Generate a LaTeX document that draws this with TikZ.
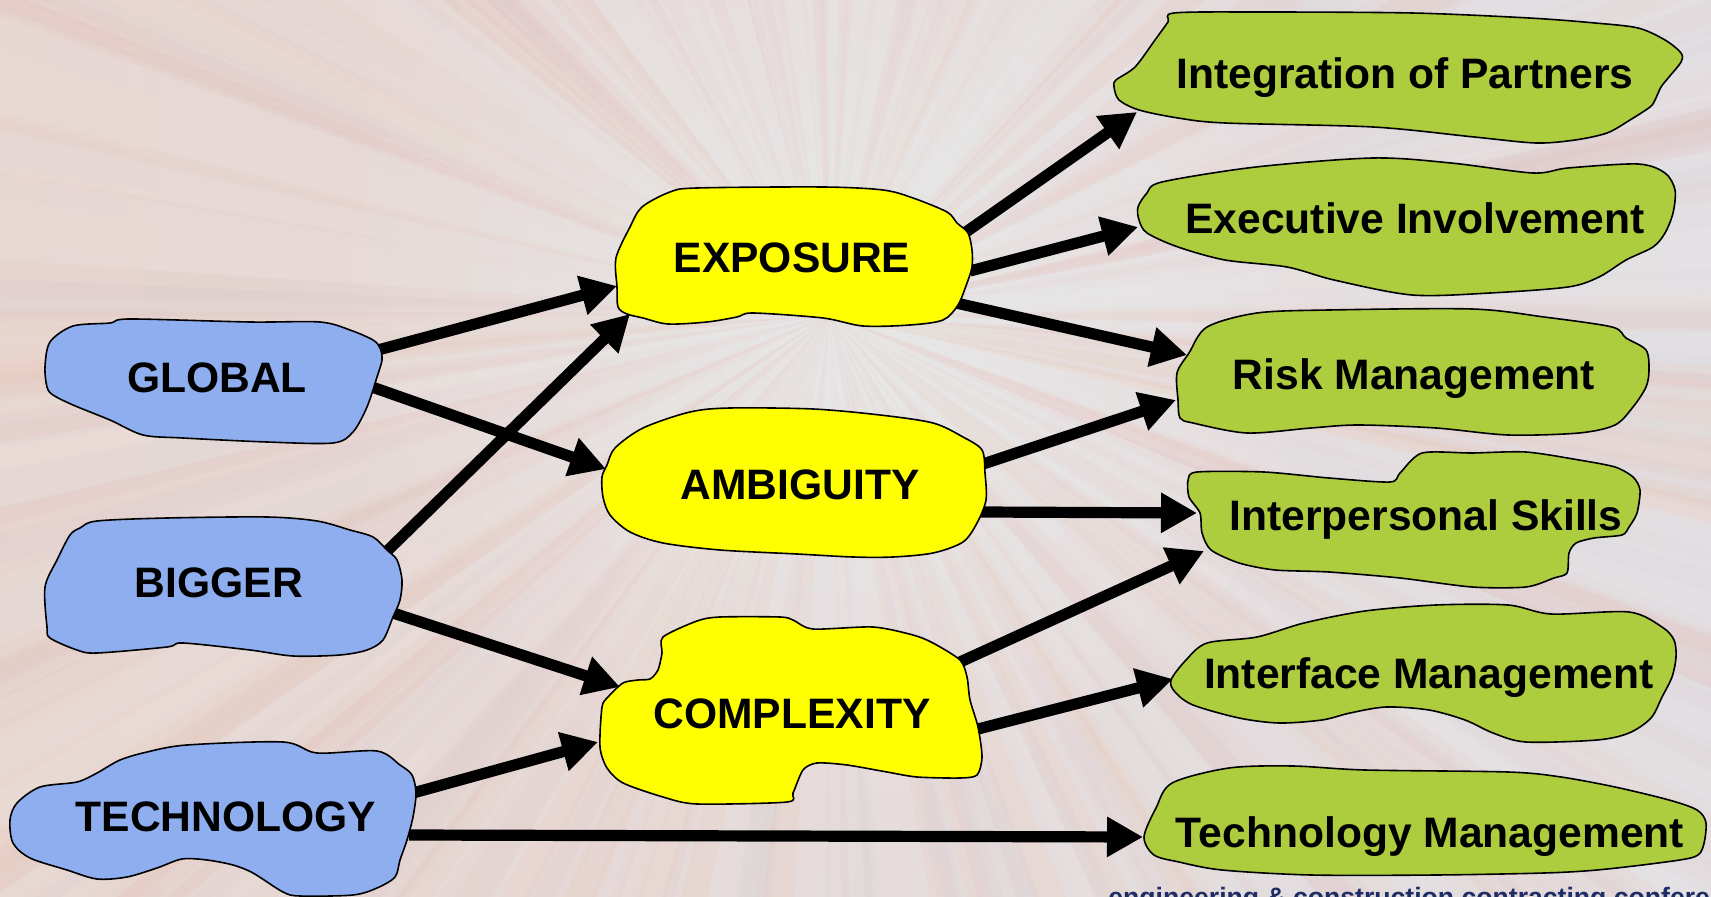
\documentclass[tikz,border=0pt]{standalone}
\usepackage{fontspec}
\setmainfont{Liberation Sans}
\usetikzlibrary{arrows.meta}
\definecolor{bluefill}{HTML}{8FAEF0}
\definecolor{yelfill}{HTML}{FFFF00}
\definecolor{grnfill}{HTML}{ADCD3F}
\definecolor{bgleft}{HTML}{E8D8D3}
\definecolor{bgright}{HTML}{E2DFE3}
\definecolor{navy}{HTML}{1E2D66}
\definecolor{st0}{HTML}{F2B392}
\definecolor{st1}{HTML}{E2A49C}
\definecolor{st2}{HTML}{C9CEDB}
\definecolor{st3}{HTML}{FAF7F5}
\definecolor{st4}{HTML}{D6B2AE}
\tikzset{
  blob/.style={draw=black, line width=0.8pt, line join=round},
  lbl/.style={font=\fontsize{21.3}{25}\selectfont\bfseries, anchor=base, inner sep=0pt},
  conn/.style={line width=5.6pt, -{Triangle[length=18pt,width=19pt]}},
}
\begin{document}
\begin{tikzpicture}[x=0.5pt,y=-0.5pt]
\useasboundingbox (0,0) rectangle (1711,897);
\begin{scope}
\clip (0,0) rectangle (1711,897);
% background
\shade[left color=bgleft, right color=bgright] (0,0) rectangle (1711,897);
\pgfmathsetseed{12}
\foreach \i in {1,...,320}{
  \pgfmathsetmacro\anga{rnd*360}
  \pgfmathsetmacro\angb{\anga+0.5+rnd*2.5}
  \pgfmathsetmacro\op{0.03+rnd*0.07}
  \pgfmathtruncatemacro\ci{5*rnd}
  \fill[st\ci, opacity=\op] (830,315) -- +(\anga:2400) -- +(\angb:2400) -- cycle;
}
\foreach \r in {40,80,...,480}{
  \fill[white, opacity=0.04] (830,315) circle[radius=\r];
}
\node[font=\fontsize{13.3}{16}\selectfont\bfseries, text=navy, anchor=base west, inner sep=0pt] (footer) at (1108,906) {engineering \& construction contracting conference};

% connector end points
\coordinate (gE1) at (378,350); \coordinate (eG1) at (617,286);
\coordinate (gA1) at (372,387); \coordinate (aG1) at (606,469);
\coordinate (bE1) at (382,556); \coordinate (eB1) at (630,314);
\coordinate (bC1) at (393,613); \coordinate (cB1) at (620,687);
\coordinate (tC1) at (413,793); \coordinate (cT1) at (598,742);
\coordinate (tT1) at (409,835); \coordinate (tmT1) at (1143,837);
\coordinate (eI1) at (966,232); \coordinate (iE1) at (1137,112);
\coordinate (eX1) at (970,271); \coordinate (xE1) at (1138,227);
\coordinate (eR1) at (956,303); \coordinate (rE1) at (1187,355);
\coordinate (aR1) at (983,464); \coordinate (rA1) at (1176,400);
\coordinate (aP1) at (981,512); \coordinate (pA1) at (1197,513);
\coordinate (cP1) at (960,662); \coordinate (pC1) at (1204,551);
\coordinate (cF1) at (978,729); \coordinate (fC1) at (1173,679);

% connectors
\draw[conn] (gE1) -- (eG1);
\draw[conn] (gA1) -- (aG1);
\draw[conn] (bE1) -- (eB1);
\draw[conn] (bC1) -- (cB1);
\draw[conn] (tC1) -- (cT1);
\draw[conn] (tT1) -- (tmT1);
\draw[conn] (eI1) -- (iE1);
\draw[conn] (eX1) -- (xE1);
\draw[conn] (eR1) -- (rE1);
\draw[conn] (aR1) -- (rA1);
\draw[conn] (aP1) -- (pA1);
\draw[conn] (cP1) -- (pC1);
\draw[conn] (cF1) -- (fC1);

% blue blobs
\draw[blob, fill=bluefill] plot[smooth cycle, tension=0.5] coordinates {(73,326) (110,323) (130,319) (250,322) (320,322) (350,330) (373,340) (380,348) (382,360) (377,377) (367,407) (353,432) (333,443) (267,442) (183,438) (143,435) (110,420) (73,405) (53,395) (47,387) (45,367) (50,342)};
\draw[blob, fill=bluefill] plot[smooth cycle, tension=0.5] coordinates {(97,521) (167,518) (267,517) (317,521) (350,530) (373,537) (387,550) (397,560) (402,580) (400,600) (393,617) (383,640) (367,650) (340,655) (293,656) (250,650) (183,643) (167,647) (97,653) (77,650) (50,638) (47,627) (45,587) (57,560) (70,535) (80,528)};
\draw[blob, fill=bluefill] plot[smooth cycle, tension=0.5] coordinates {(40,787) (77,782) (97,773) (120,760) (147,752) (187,745) (283,742) (317,753) (377,751) (400,765) (412,775) (416,793) (413,817) (407,840) (400,860) (395,877) (377,888) (353,895) (300,896) (283,892) (253,873) (233,865) (207,860) (182,859) (157,868) (127,877) (97,879) (67,870) (30,858) (13,843) (10,820) (17,803)};

% yellow blobs
\draw[blob, fill=yelfill] plot[smooth cycle, tension=0.5] coordinates {(642,207) (670,192) (697,188) (823,187) (883,190) (913,198) (947,212) (957,223) (968,233) (972,250) (972,267) (967,283) (958,305) (943,320) (910,325) (863,326) (823,318) (753,313) (737,317) (707,322) (668,324) (643,318) (627,314) (618,307) (617,287) (616,258) (630,227)};
\draw[blob, fill=yelfill] plot[smooth cycle, tension=0.5] coordinates {(615,448) (643,428) (690,412) (730,408) (813,409) (880,415) (933,423) (963,437) (982,450) (985,473) (986,500) (977,523) (963,542) (933,553) (893,557) (853,557) (797,554) (720,550) (663,543) (630,532) (610,515) (603,497) (602,477) (607,465)};
\draw[blob, fill=yelfill] plot[smooth cycle, tension=0.45] coordinates {(663,637) (697,621) (720,617) (780,617) (793,620) (813,629) (873,627) (913,635) (933,643) (960,660) (967,677) (970,700) (978,727) (982,757) (977,775) (960,778) (917,777) (887,772) (847,765) (817,763) (803,770) (793,793) (787,802) (697,804) (663,797) (623,783) (607,768) (600,747) (602,707) (608,697) (623,683) (638,680) (650,679) (658,670) (662,653)};

% green blobs
\draw[blob, fill=grnfill] plot[smooth cycle, tension=0.5] coordinates {(1174,13) (1256,12) (1412,13) (1529,18) (1595,23) (1638,28) (1665,40) (1681,53) (1681,62) (1669,77) (1661,87) (1655,100) (1650,107) (1630,120) (1607,133) (1575,140) (1536,143) (1474,137) (1373,127) (1225,123) (1178,118) (1139,110) (1119,100) (1114,87) (1116,80) (1135,67) (1155,40) (1168,22)};
\draw[blob, fill=grnfill] plot[smooth cycle, tension=0.5] coordinates {(1162,182) (1256,167) (1373,158) (1451,163) (1533,173) (1568,168) (1638,164) (1665,173) (1675,190) (1673,213) (1665,233) (1653,247) (1626,260) (1599,277) (1568,287) (1490,293) (1412,295) (1334,280) (1287,267) (1225,260) (1178,247) (1147,233) (1139,220) (1138,207) (1147,193)};
\draw[blob, fill=grnfill] plot[smooth cycle, tension=0.5] coordinates {(1207,327) (1257,313) (1329,310) (1472,309) (1544,317) (1612,327) (1626,338) (1646,350) (1649,370) (1646,387) (1633,407) (1615,425) (1579,433) (1508,435) (1436,428) (1358,425) (1311,428) (1247,433) (1193,423) (1180,418) (1178,400) (1177,373) (1189,353)};
\draw[blob, fill=grnfill] plot[smooth cycle, tension=0.45] coordinates {(1197,472) (1264,472) (1329,478) (1390,482) (1400,473) (1422,453) (1472,453) (1526,452) (1579,460) (1615,467) (1633,477) (1640,490) (1637,513) (1629,527) (1622,535) (1594,538) (1576,543) (1569,553) (1567,573) (1554,578) (1526,587) (1472,587) (1400,578) (1329,572) (1275,570) (1239,563) (1211,550) (1202,533) (1200,513) (1189,497) (1188,480)};
\draw[blob, fill=grnfill] plot[smooth cycle, tension=0.5] coordinates {(1207,643) (1257,637) (1304,623) (1365,611) (1436,605) (1508,605) (1551,614) (1629,612) (1662,627) (1674,640) (1676,657) (1672,677) (1662,697) (1651,718) (1629,733) (1597,740) (1526,742) (1493,733) (1465,720) (1429,710) (1386,707) (1350,713) (1322,720) (1279,723) (1239,718) (1193,705) (1175,692) (1171,680) (1186,660)};
\draw[blob, fill=grnfill] plot[smooth cycle, tension=0.5] coordinates {(1172,783) (1229,768) (1293,766) (1365,770) (1508,772) (1561,777) (1615,787) (1669,800) (1697,810) (1706,823) (1703,847) (1694,857) (1658,863) (1597,870) (1544,873) (1436,875) (1311,875) (1222,870) (1179,862) (1154,855) (1144,837) (1156,808)};

% labels
\node[lbl] (glob) at (217,393) {GLOBAL};
\node[lbl] (bigg) at (219,597) {BIGGER};
\node[lbl] (tech) at (226,831) {TECHNOLOGY};
\node[lbl] (expo) at (792,273) {EXPOSURE};
\node[lbl] (ambi) at (800,499) {AMBIGUITY};
\node[lbl] (comp) at (792,728) {COMPLEXITY};
\node[lbl] (intg) at (1405,89) {Integration of Partners};
\node[lbl] (exec) at (1415,234) {Executive Involvement};
\node[lbl] (risk) at (1414,390) {Risk Management};
\node[lbl] (ipsk) at (1426,530) {Interpersonal Skills};
\node[lbl] (ifmg) at (1429,688) {Interface Management};
\node[lbl] (tcmg) at (1430,847) {Technology Management};
\end{scope}
\end{tikzpicture}
\end{document}
